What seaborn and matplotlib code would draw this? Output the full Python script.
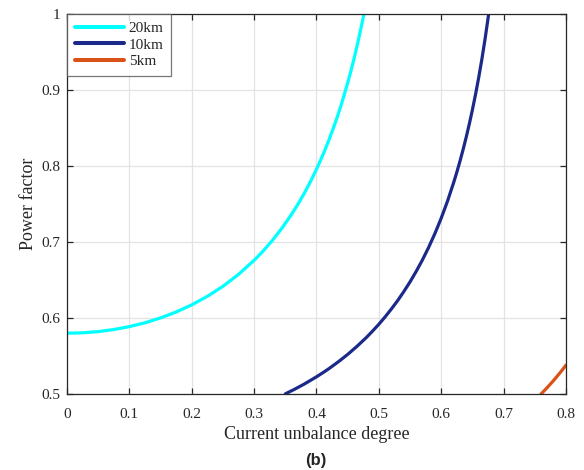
import numpy as np
import pandas as pd
import matplotlib
matplotlib.use("Agg")
import matplotlib.pyplot as plt
import seaborn as sns
from matplotlib.ticker import FuncFormatter

# Data
x_20km = [0.000, 0.025, 0.050, 0.075, 0.100, 0.125, 0.150, 0.175, 0.200,
          0.225, 0.250, 0.275, 0.300, 0.315, 0.330, 0.345, 0.360, 0.370,
          0.380, 0.390, 0.400, 0.410, 0.420, 0.430, 0.435, 0.440, 0.450,
          0.455, 0.460, 0.465, 0.470, 0.473, 0.476]
pf_20km = [0.5800, 0.5805, 0.5821, 0.5848, 0.5887, 0.5937, 0.6001, 0.6079,
           0.6173, 0.6285, 0.6417, 0.6574, 0.6759, 0.6886, 0.7028, 0.7187,
           0.7364, 0.7494, 0.7635, 0.7789, 0.7957, 0.8141, 0.8343, 0.8566,
           0.8687, 0.8815, 0.9093, 0.9245, 0.9406, 0.9579, 0.9763, 0.9879,
           1.0000]

x_10km = [0.350, 0.365, 0.380, 0.400, 0.410, 0.420, 0.435, 0.450, 0.465,
          0.480, 0.490, 0.500, 0.510, 0.520, 0.530, 0.540, 0.550, 0.560,
          0.570, 0.580, 0.590, 0.600, 0.610, 0.620, 0.625, 0.630, 0.635,
          0.640, 0.645, 0.650, 0.655, 0.660, 0.665, 0.670, 0.676]
pf_10km = [0.5002, 0.5063, 0.5129, 0.5226, 0.5279, 0.5334, 0.5424, 0.5521,
           0.5628, 0.5744, 0.5829, 0.5918, 0.6015, 0.6118, 0.6228, 0.6348,
           0.6476, 0.6616, 0.6767, 0.6933, 0.7115, 0.7315, 0.7537, 0.7785,
           0.7920, 0.8063, 0.8216, 0.8379, 0.8554, 0.8742, 0.8944, 0.9162,
           0.9400, 0.9658, 1.0000]

x_5km = [0.76, 0.77, 0.78, 0.79, 0.80]
pf_5km = [0.5000, 0.5086, 0.5177, 0.5275, 0.5380]

series_names = ["20km", "10km", "5km"]
colors = ["#00FFFF", "#1B2A8A", "#D95319"]

x_ticks = [0, 0.1, 0.2, 0.3, 0.4, 0.5, 0.6, 0.7, 0.8]
y_ticks = [0.5, 0.6, 0.7, 0.8, 0.9, 1.0]

df = pd.concat([
    pd.DataFrame({"x": x_20km, "pf": pf_20km, "series": "20km"}),
    pd.DataFrame({"x": x_10km, "pf": pf_10km, "series": "10km"}),
    pd.DataFrame({"x": x_5km, "pf": pf_5km, "series": "5km"}),
], ignore_index=True)

sns.set_theme(style="white")
plt.rcParams["font.family"] = ["Liberation Serif", "DejaVu Serif"]

fig = plt.figure(figsize=(5.84, 4.70), dpi=100)
ax = fig.add_axes([0.1147, 0.1617, 0.8545, 0.8085])

sns.lineplot(data=df, x="x", y="pf", hue="series", hue_order=series_names,
             palette=dict(zip(series_names, colors)), sort=False,
             estimator=None, linewidth=2.3, ax=ax)

ax.set_xlim(0, 0.8)
ax.set_ylim(0.5, 1.0)
ax.set_xticks(x_ticks)
ax.set_yticks(y_ticks)
fmt = FuncFormatter(lambda v, p: ("%g" % round(v, 2)))
ax.xaxis.set_major_formatter(fmt)
ax.yaxis.set_major_formatter(fmt)
ax.grid(True, color="#e3e3e3", linewidth=0.9)
ax.set_axisbelow(True)
ax.tick_params(direction="in", length=4, width=0.9, colors="#262626",
               labelsize=11, top=True, right=True, bottom=True, left=True,
               labelcolor="#262626")
ax.tick_params(axis="x", pad=10)
ax.tick_params(axis="y", pad=5)
for s in ax.spines.values():
    s.set_visible(True)
    s.set_color("#262626")
    s.set_linewidth(0.9)

ax.set_xlabel("Current unbalance degree", fontsize=13, color="#262626", labelpad=4)
ax.set_ylabel("Power factor", fontsize=13, color="#262626", labelpad=3)

leg = ax.legend(loc="upper left", fontsize=11, frameon=True, fancybox=False,
                edgecolor="#555555", handlelength=3.2, handletextpad=0.35,
                borderpad=0.5, labelspacing=0.17, borderaxespad=0.0)
leg.get_frame().set_linewidth(0.9)
for line in leg.get_lines():
    line.set_linewidth(2.9)

fig.text(316 / 584, 1 - 461 / 470, "(b)", ha="center", va="center",
         fontsize=12, fontweight="bold", family=["Liberation Sans", "DejaVu Sans"],
         color="#262626")

fig.savefig("out.png", dpi=100, facecolor="white")
